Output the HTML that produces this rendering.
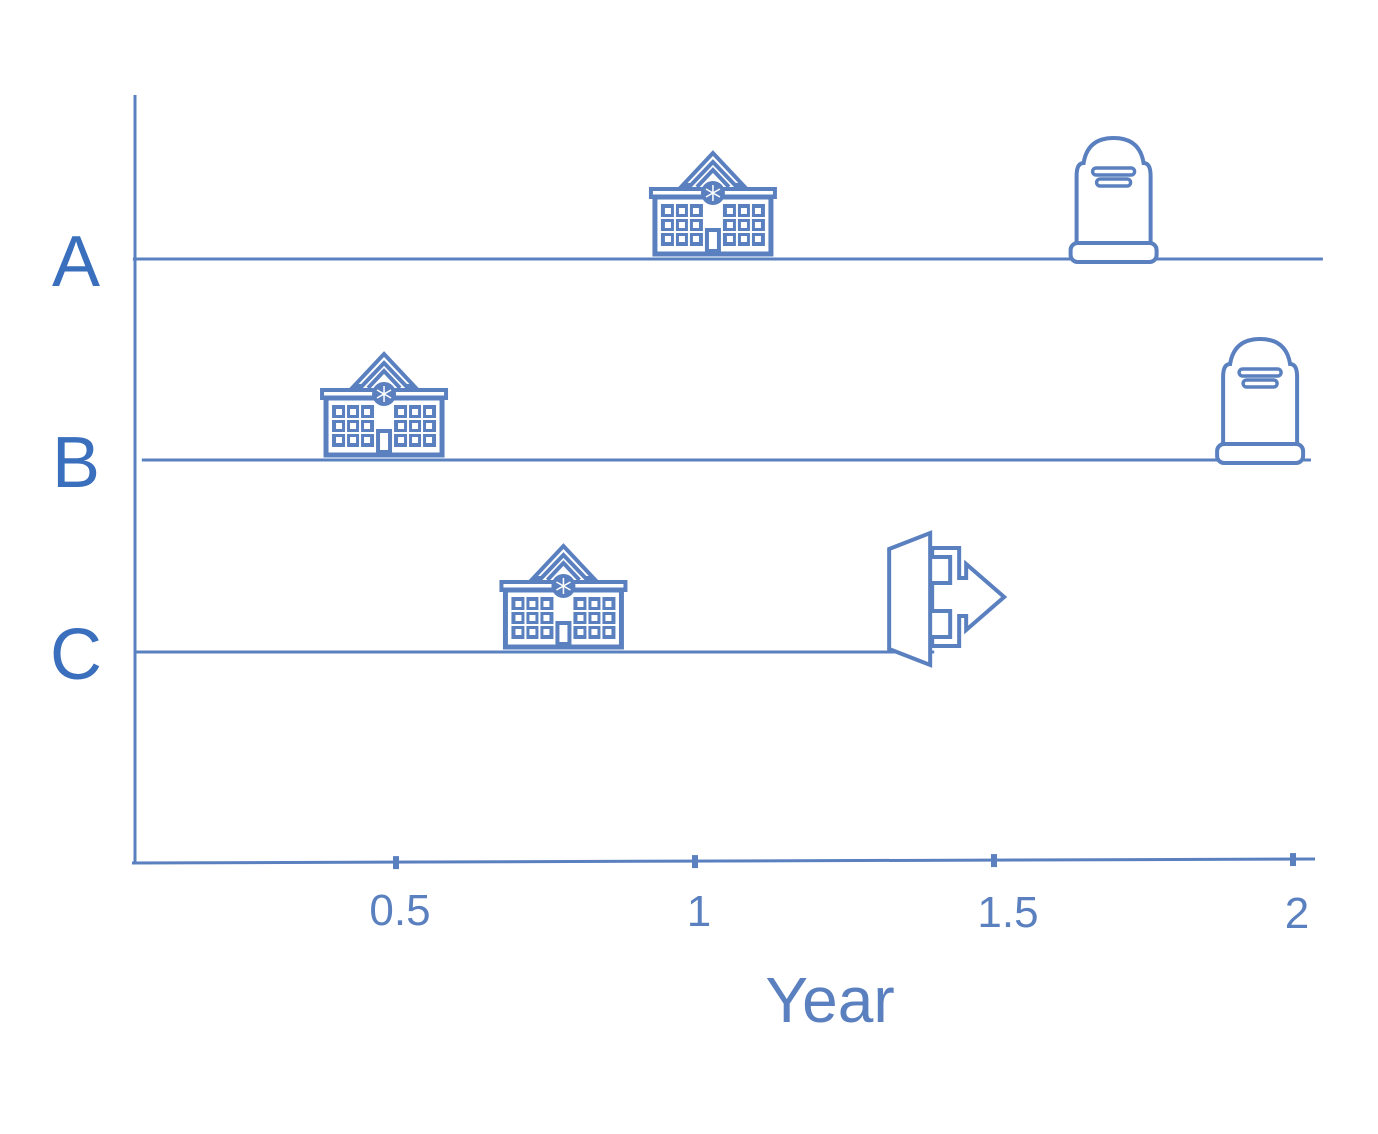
<!DOCTYPE html>
<html><head><meta charset="utf-8"><style>
html,body{margin:0;padding:0;background:#fff;}
svg{display:block;font-family:"Liberation Sans","DejaVu Sans",sans-serif;}
</style></head><body>
<svg id="chart" width="1378" height="1134" viewBox="0 0 1378 1134">
<defs>
<g id="hospital">
  <!-- roof -->
  <path d="M-30,36 L0,4 L30,36 L22,36 L0,13 L-22,36 Z" fill="#fff" stroke="#5a80bf" stroke-width="4"/>
  <path d="M-16,38 L0,21 L16,38" fill="none" stroke="#5a80bf" stroke-width="4"/>
  <!-- cornice -->
  <rect x="-62" y="40" width="124" height="8" fill="#fff" stroke="#5a80bf" stroke-width="4"/>
  <!-- body -->
  <rect x="-58" y="48" width="116" height="57" fill="#fff" stroke="#5a80bf" stroke-width="5"/>
  <circle cx="0" cy="44" r="12" fill="#5a80bf"/>
  <path d="M0,36 V52 M-7,40 L7,48 M-7,48 L7,40" stroke="#fff" stroke-width="1.5"/>
  <!-- windows -->
  <g fill="#5a80bf">
    <rect x="-52" y="55" width="42" height="42"/>
    <rect x="10" y="55" width="42" height="42"/>
  </g>
  <g stroke="#fff" stroke-width="2" fill="none">
    <path d="M-38,55 V97 M-24,55 V97 M-52,69 H-10 M-52,83 H-10"/>
    <path d="M24,55 V97 M38,55 V97 M10,69 H52 M10,83 H52"/>
  </g>
  <g fill="#fff">
    <rect x="-48" y="59" width="6" height="6"/><rect x="-34" y="59" width="6" height="6"/><rect x="-20" y="59" width="6" height="6"/>
    <rect x="-48" y="73" width="6" height="6"/><rect x="-34" y="73" width="6" height="6"/><rect x="-20" y="73" width="6" height="6"/>
    <rect x="-48" y="87" width="6" height="6"/><rect x="-34" y="87" width="6" height="6"/><rect x="-20" y="87" width="6" height="6"/>
    <rect x="14" y="59" width="6" height="6"/><rect x="28" y="59" width="6" height="6"/><rect x="42" y="59" width="6" height="6"/>
    <rect x="14" y="73" width="6" height="6"/><rect x="28" y="73" width="6" height="6"/><rect x="42" y="73" width="6" height="6"/>
    <rect x="14" y="87" width="6" height="6"/><rect x="28" y="87" width="6" height="6"/><rect x="42" y="87" width="6" height="6"/>
  </g>
  <rect x="-6" y="81" width="12" height="21" fill="#fff" stroke="#5a80bf" stroke-width="4"/>
</g>
<g id="tomb">
  <path d="M-37,104 V38 Q-37,25 -30,25 Q-26,0 0,0 Q26,0 30,25 Q37,25 37,38 V104" fill="#fff" stroke="#5a80bf" stroke-width="4"/>
  <rect x="-43" y="105" width="86" height="19" rx="7" fill="#fff" stroke="#5a80bf" stroke-width="4"/>
  <rect x="-21" y="30" width="42" height="7" rx="3.5" fill="#fff" stroke="#5a80bf" stroke-width="3.5"/>
  <rect x="-17" y="41" width="34" height="7" rx="3.5" fill="#fff" stroke="#5a80bf" stroke-width="3.5"/>
</g>
<g id="exit">
  <path d="M-57,-108 L-16,-124 V8 L-57,-8 Z" fill="#fff" stroke="#5a80bf" stroke-width="4"/>
  <path d="M-14,-109 H13 V-79 H20 V-93 L58,-60 L20,-27 V-41 H13 V-11 H-14 V-20 H4 V-46 H-14 V-74 H4 V-100 H-14 Z" fill="#fff" stroke="#5a80bf" stroke-width="4"/>
</g>
</defs>
<g id="plot"></g>
</svg>
<script>
const rows = ["A","B","C"];
const rowY = [259, 460, 652];
const lineStart = [0.06, 0.075, 0.065];
const lineEnd = [2.05, 2.03, 1.40];
const hospitalYear = [1.03, 0.48, 0.78];
const tombYear = [1.70, 1.945, null];
const exitYear = [null, null, 1.42];
const xTicks = [0.5, 1, 1.5, 2];
const xTickLabels = ["0.5","1","1.5","2"];

const NS = "http://www.w3.org/2000/svg";
const x = v => 97 + v * 598;
const plot = document.getElementById('plot');
const C = "#5a80bf";
function mk(tag, attrs, parent){
  const e = document.createElementNS(NS, tag);
  for (const k in attrs) e.setAttribute(k, attrs[k]);
  (parent || plot).appendChild(e);
  return e;
}
let ya = mk('line',{x1:135,y1:95,x2:135,y2:863,stroke:C,'stroke-width':3});


let xa = mk('line',{x1:132,y1:863,x2:1315,y2:859,stroke:C,'stroke-width':3});


xTicks.forEach((t,i)=>{
  const yy = 863 - (x(t)-132)*4/1183;
  let tk = mk('line',{x1:x(t),y1:yy-6,x2:x(t),y2:yy+7,stroke:C,'stroke-width':6});
  
  
  let tl = mk('text',{x:x(t)+4+(i===2?10:0),y:yy+63+i*2,'text-anchor':'middle','font-size':44,fill:C});
  tl.textContent = xTickLabels[i];
  
  
});
let xt = mk('text',{x:830,y:1022,'text-anchor':'middle','font-size':64,fill:C});
xt.textContent = "Year";



rows.forEach((r,i)=>{
  const y = rowY[i];
  let lb = mk('text',{x:76,y:y+27,'text-anchor':'middle','font-size':72,fill:'#3a6fbd'});
  lb.textContent = r;
  
  
  let ln = mk('line',{x1:x(lineStart[i]),y1:y,x2:x(lineEnd[i]),y2:y,stroke:C,'stroke-width':3});
  
  
  if (hospitalYear[i] != null){
    let u = mk('use',{href:'#hospital',transform:`translate(${x(hospitalYear[i])},${y-110})`});
    
    
  }
  if (tombYear[i] != null){
    let u = mk('use',{href:'#tomb',transform:`translate(${x(tombYear[i])},${y-121})`});
    
    
  }
  if (exitYear[i] != null){
    let u = mk('use',{href:'#exit',transform:`translate(${x(exitYear[i])},${y+5})`});
    
    
  }
});
</script>
</body></html>
